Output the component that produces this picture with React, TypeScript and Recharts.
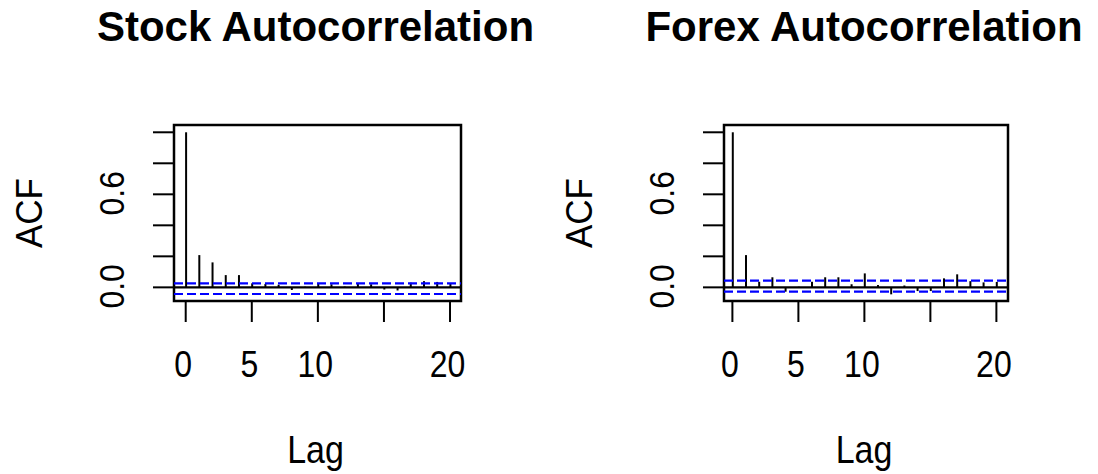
import React from 'react'
import {
  ComposedChart, Bar, XAxis, YAxis, ReferenceLine, ReferenceArea
} from 'recharts'

// lags 0..20
const lags = [0, 1, 2, 3, 4, 5, 6, 7, 8, 9, 10, 11, 12, 13, 14, 15, 16, 17, 18, 19, 20]
const stockAcf = [1, 0.208, 0.161, 0.079, 0.079, 0.026, 0.022, 0.017, -0.017, 0.004, 0.026,
  0.02, 0.005, 0.026, 0.02, -0.014, -0.02, 0.03, 0.04, 0.035, 0.026]
const forexAcf = [1, 0.208, 0.036, 0.065, -0.028, 0.004, 0.036, 0.065, 0.065, 0.02, 0.09,
  0.015, -0.045, 0.012, -0.024, -0.024, 0.058, 0.084, 0.04, 0.032, 0.035]

// confidence bands [upper, lower] as drawn
const stockBand = [0.026, -0.043]
const forexBand = [0.043, -0.028]

const xTicks = [0, 5, 10, 15, 20]
const xTickLabels = ['0', '5', '10', '', '20']
const yTicks = [0, 0.2, 0.4, 0.6, 0.8, 1]
const yTickLabels = ['0.0', '', '', '0.6', '', '']

const FONT = '"Liberation Sans", Arial, sans-serif'
const W = 549
const H = 474

// R's glyphs come out a little taller than Liberation Sans, so stretch text along glyph height
const HText = ({ x, y, size, stretch = 1.12, bold = false, children }: any) => (
  <g transform={`translate(${x}, ${y}) scale(1, ${stretch})`}>
    <text x={0} y={0} textAnchor="middle" fontFamily={FONT} fontSize={size}
      fontWeight={bold ? 'bold' : 'normal'} fill="#000">{children}</text>
  </g>
)

const VText = ({ x, y, size, stretch = 1.12, children }: any) => (
  <g transform={`translate(${x}, ${y}) scale(${stretch}, 1) rotate(-90)`}>
    <text x={0} y={0} textAnchor="middle" fontFamily={FONT} fontSize={size} fill="#000">{children}</text>
  </g>
)

const XTick = ({ x, payload }: any) => {
  const label = xTickLabels[xTicks.indexOf(payload.value)]
  if (!label) return null
  return <HText x={x - 2.5} y={377} size={32} stretch={1.14}>{label}</HText>
}

const YTick = ({ y, payload }: any) => {
  const label = yTickLabels[yTicks.indexOf(payload.value)]
  if (!label) return null
  return <VText x={124} y={y - 1} size={32} stretch={1.12}>{label}</VText>
}

function AcfPanel({ title, values, band, xDomain, left, right }: {
  title: string; values: number[]; band: number[]; xDomain: number[]; left: number; right: number
}) {
  const data = lags.map((lag, i) => ({ lag, acf: values[i] }))
  const yDomain = [-0.088, 1.047]
  const mid = (left + right) / 2 - 2
  return (
    <div style={{ position: 'relative', width: W, height: H }}>
      <svg style={{ position: 'absolute', left: 0, top: 0 }} width={W} height={H}>
        <HText x={mid} y={41} size={42} stretch={1} bold>{title}</HText>
        <VText x={42} y={213} size={35} stretch={1.08}>ACF</VText>
        <HText x={mid} y={463} size={34} stretch={1.14}>Lag</HText>
      </svg>
      <div style={{ position: 'absolute', left: 0, top: 0 }}>
        <ComposedChart width={W} height={H} data={data}
          margin={{ top: 125, right: W - right, bottom: H - 301 - 1, left: left - 1 }}>
          <XAxis dataKey="lag" type="number" domain={xDomain} allowDataOverflow ticks={xTicks}
            interval={0} height={1} tickSize={21} axisLine={false}
            tickLine={{ stroke: '#000', strokeWidth: 2 }} tick={<XTick />} />
          <YAxis type="number" domain={yDomain} allowDataOverflow ticks={yTicks}
            interval={0} width={1} tickSize={21} axisLine={false}
            tickLine={{ stroke: '#000', strokeWidth: 2 }} tick={<YTick />} />
          <ReferenceLine y={band[0]} stroke="#0000ff" strokeWidth={2.2} strokeDasharray="9 4" />
          <ReferenceLine y={band[1]} stroke="#0000ff" strokeWidth={2.2} strokeDasharray="9 4" />
          <ReferenceLine y={0} stroke="#000" strokeWidth={2.2} />
          <Bar dataKey="acf" barSize={2} fill="#000" isAnimationActive={false} />
          <ReferenceArea x1={xDomain[0]} x2={xDomain[1]} y1={yDomain[0]} y2={yDomain[1]}
            fill="none" stroke="#000" strokeWidth={2.5} fillOpacity={0} ifOverflow="visible" />
        </ComposedChart>
      </div>
    </div>
  )
}

export default function App() {
  return (
    <div style={{ position: 'absolute', left: 0, top: 0, width: 1098, height: 474, background: '#fff' }}>
      <div style={{ position: 'absolute', left: 0, top: 0 }}>
        <AcfPanel title="Stock Autocorrelation" values={stockAcf} band={stockBand}
          xDomain={[-0.886, 20.83]} left={174} right={461} />
      </div>
      <div style={{ position: 'absolute', left: 550, top: 0 }}>
        <AcfPanel title="Forex Autocorrelation" values={forexAcf} band={forexBand}
          xDomain={[-0.636, 20.88]} left={174} right={458} />
      </div>
    </div>
  )
}
